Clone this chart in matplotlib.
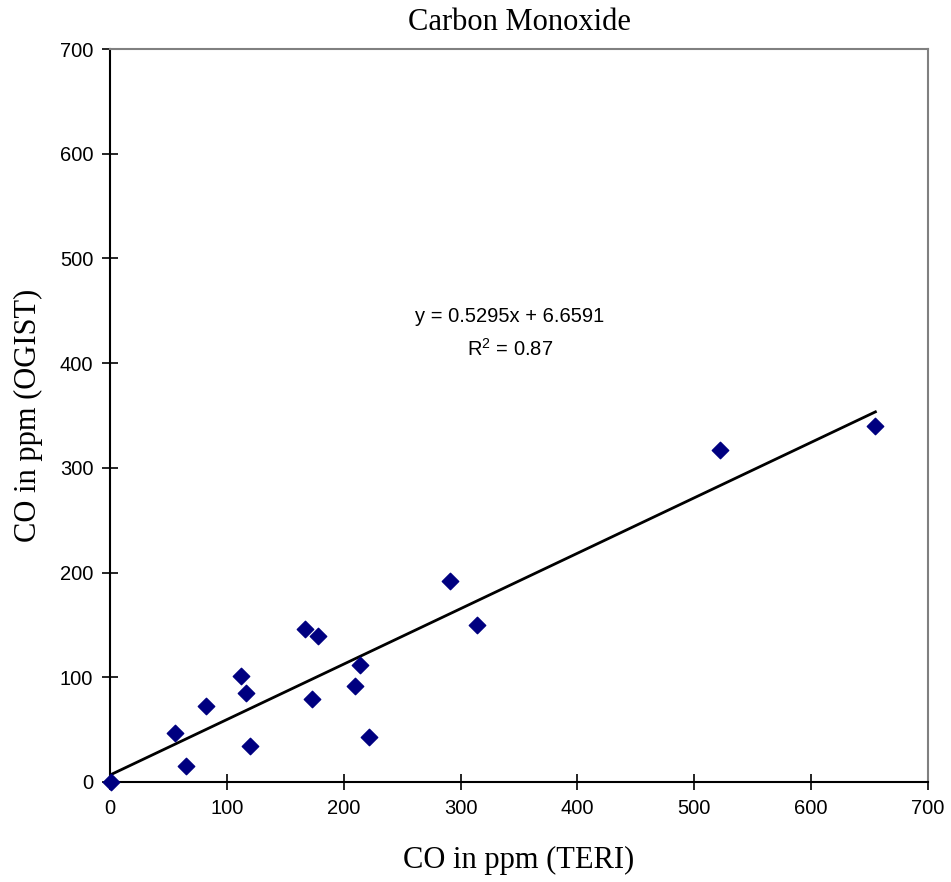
# Carbon Monoxide: OGIST vs TERI scatter with linear trend line
import numpy as np
import matplotlib.pyplot as plt

# Data
teri = [1, 56, 65, 82, 112, 116, 120, 167, 173, 178, 210, 214, 222, 291, 314, 522, 655]
ogist = [0, 47, 15, 73, 101, 85, 34, 146, 79, 139, 92, 112, 43, 192, 150, 317, 340]
slope = 0.5295
intercept = 6.6591
r2 = 0.87
ticks = [0, 100, 200, 300, 400, 500, 600, 700]

fig = plt.figure(figsize=(9.51, 8.82), dpi=100)
ax = fig.add_axes([0.1157, 0.1134, 0.8601, 0.8310])

ax.scatter(teri, ogist, marker='D', s=70, color='#000080', zorder=3, clip_on=False)

# trend line over the data range
xl = np.array([0, max(teri)])
ax.plot(xl, slope * xl + intercept, color='black', lw=2, zorder=2)

ax.text(342, 445, 'y = %.4fx + %.4f' % (slope, intercept), ha='center', va='center',
        fontsize=14.5, family='Liberation Sans')
ax.text(342, 414, '$\\mathregular{R^2}$ = %.2f' % r2, ha='center', va='center',
        fontsize=14.5, family='Liberation Sans')

ax.set_xlim(0, 700)
ax.set_ylim(0, 700)
ax.set_xticks(ticks)
ax.set_yticks(ticks)
ax.tick_params(direction='inout', length=12, width=1.2, labelsize=14.5, pad=6)
for lab in ax.get_xticklabels() + ax.get_yticklabels():
    lab.set_family('Liberation Sans')

for s in ['left', 'bottom']:
    ax.spines[s].set_color('black')
    ax.spines[s].set_linewidth(1.5)
for s in ['top', 'right']:
    ax.spines[s].set_color('#808080')
    ax.spines[s].set_linewidth(1.5)

ax.set_title('Carbon Monoxide', family='Liberation Serif', fontsize=22, pad=14)
ax.set_xlabel('CO in ppm (TERI)', family='Liberation Serif', fontsize=22, labelpad=20)
ax.set_ylabel('CO in ppm (OGIST)', family='Liberation Serif', fontsize=22, labelpad=12)

fig.savefig('out.png', dpi=100)
